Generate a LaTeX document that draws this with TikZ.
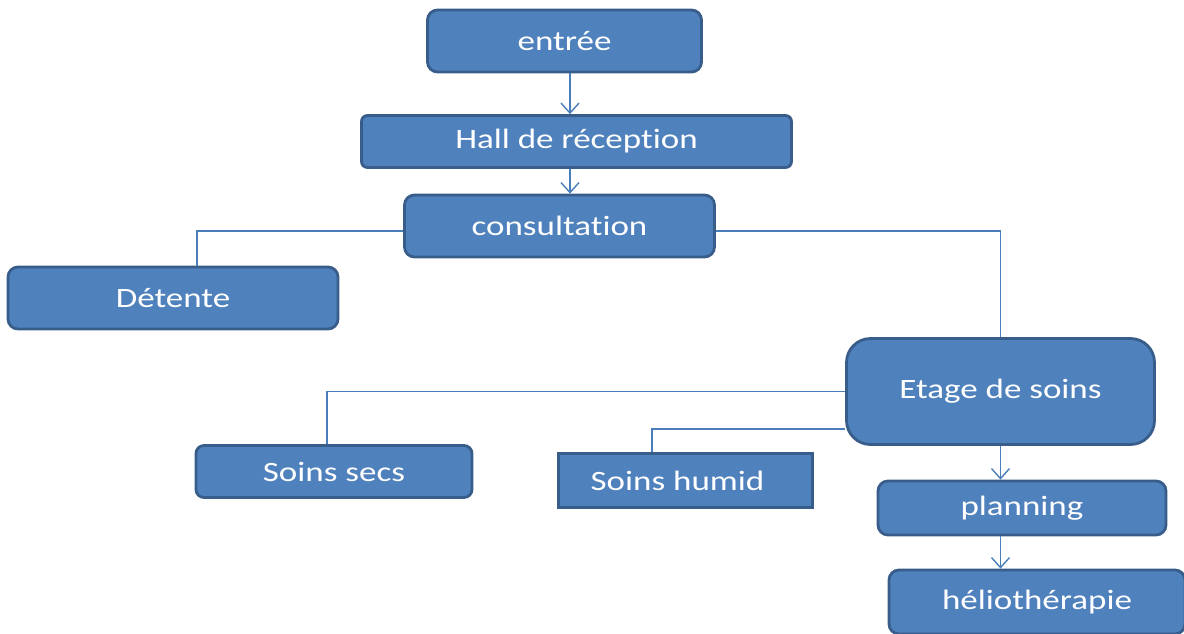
\documentclass[tikz,border=0pt]{standalone}
\usepackage{fontspec}
\setmainfont{Carlito}[FakeStretch=1.25,Ligatures=NoCommon]
\usetikzlibrary{arrows.meta}
\definecolor{boxblue}{HTML}{4F81BD}
\definecolor{boxedge}{HTML}{385D8A}
\definecolor{linkblue}{HTML}{4A7EBB}

\begin{document}
\begin{tikzpicture}[x=0.5pt,y=-0.5pt,
        box/.style={draw=boxedge,fill=boxblue,line width=1.4pt,text=white,
            rounded corners=5pt,inner sep=0pt,font=\fontsize{14}{16}\selectfont},
        link/.style={draw=linkblue,line width=0.7pt},
        flow/.style={link,-{Straight Barb[length=5pt,width=9pt,line width=0.7pt]}}
    ]
    \useasboundingbox (0,0) rectangle (1184,633);
    % boxes
    \node[box,minimum width=137pt,minimum height=31pt]  (entree) at (564.5,41) {entrée};
    \node[box,minimum width=215pt,minimum height=26pt,rounded corners=3pt] (hall) at (576.5,141.5) {Hall de réception};
    \node[box,minimum width=155pt,minimum height=31pt]  (consult) at (559.5,226) {consultation};
    \node[box,minimum width=165pt,minimum height=31pt]  (detente) at (173,298) {Détente};
    \node[box,minimum width=154pt,minimum height=53pt,rounded corners=12pt] (etage) at (1000.5,391.5) {Etage de soins};
    \node[box,minimum width=138pt,minimum height=26pt,rounded corners=4pt]  (secs) at (334,471.5) {Soins secs};
    \node[box,minimum width=127pt,minimum height=27pt,rounded corners=0pt]  (humid) at (685.5,480.5) {\hspace*{-8pt}Soins humid};
    \node[box,minimum width=144pt,minimum height=27pt]  (planning) at (1022,508) {planning};
    \node[box,minimum width=148pt,minimum height=32pt]  (helio) at (1037,602) {héliothérapie};
    % connectors
    \draw[flow] ([xshift=2.75pt]entree.south) -- ([xshift=2.75pt]entree.south |- hall.north);
    \draw[flow] ([xshift=-3.25pt]hall.south) -- ([xshift=-3.25pt]hall.south |- consult.north);
    \draw[link] ([yshift=-2.5pt]consult.west) -| ([xshift=12pt]detente.north);
    \draw[link] ([yshift=-2.5pt]consult.east) -| (etage.north);
    \draw[link] (etage.west) -| ([xshift=-3.5pt]secs.north);
    \draw[link] ([yshift=8.5pt]etage.south west) -| ([xshift=-16.75pt]humid.north);
    \draw[flow] (etage.south) -- (etage.south |- planning.north);
    \draw[flow] (etage.south |- planning.south) -- (etage.south |- helio.north);
\end{tikzpicture}
\end{document}
